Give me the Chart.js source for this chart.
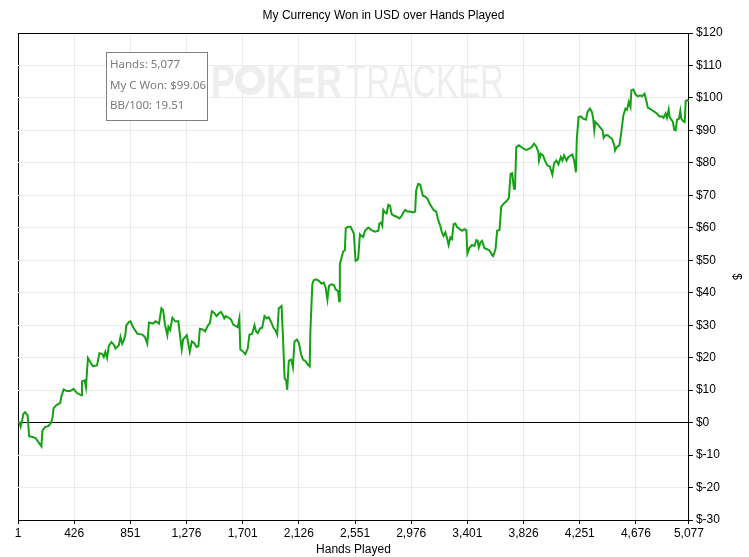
<!DOCTYPE html>
<html>
<head>
<meta charset="utf-8">
<script src="https://cdn.jsdelivr.net/npm/chart.js@4.4.1/dist/chart.umd.min.js"></script>
<style>
  html, body { margin: 0; padding: 0; background: #fff; }
  #wrap { width: 749px; height: 557px; }
</style>
</head>
<body>
<div id="wrap"><canvas id="wonChart"></canvas></div>
<script>
// hands played / currency won
const hands = [
  1, 14, 21, 29, 42, 54, 74, 85, 118, 135, 150, 178, 186, 194, 206, 232, 252, 262, 270, 282,
  295, 320, 328, 346, 371, 396, 422, 447, 480, 485, 505, 515, 530, 548, 566, 599, 617, 637, 650, 662,
  675, 688, 708, 726, 738, 764, 776, 789, 802, 814, 819, 839, 852, 870, 903, 941, 961, 979, 992, 1022,
  1043, 1068, 1086, 1099, 1114, 1131, 1139, 1152, 1169, 1190,
  1214, 1232, 1240, 1250, 1265, 1278, 1290, 1301, 1316, 1334, 1351, 1366, 1377, 1397, 1417, 1435, 1453, 1468, 1486, 1503,
  1518, 1536, 1549, 1562, 1574, 1594, 1612, 1630, 1650, 1663, 1676, 1683, 1701, 1721, 1739, 1752, 1772, 1790, 1802, 1815,
  1833, 1848, 1866, 1883, 1898, 1916, 1934, 1949, 1962, 1974, 1995, 2005, 2018, 2030, 2038, 2050, 2068, 2081, 2093, 2111,
  2126, 2144, 2157, 2177, 2195, 2208, 2213, 2228, 2238, 2258, 2279, 2296, 2314, 2329, 2342, 2354, 2372, 2390, 2405, 2423,
  2431, 2436, 2448, 2461, 2474, 2481, 2499, 2517, 2532, 2542, 2555, 2567, 2575, 2588, 2600, 2613, 2626, 2651, 2676, 2702,
  2727, 2735, 2747, 2757, 2765, 2778, 2790, 2803, 2816, 2828, 2846, 2866, 2887, 2904, 2917, 2930, 2947, 2968, 2988, 3006,
  3013, 3028, 3044, 3056, 3064, 3082, 3099, 3115, 3132, 3145, 3165, 3178, 3196, 3208, 3221, 3234, 3246, 3259, 3272, 3284,
  3297, 3310, 3322, 3343, 3360, 3378, 3393, 3401, 3418, 3436, 3454, 3469, 3479, 3487, 3500, 3512, 3530, 3550, 3571, 3588,
  3596, 3614, 3626, 3644, 3657, 3664, 3677, 3695, 3715, 3728, 3740, 3753, 3761, 3771, 3791, 3811, 3829, 3847, 3867, 3887,
  3905, 3923, 3938, 3943, 3956, 3973, 3988, 4006, 4024, 4044, 4057, 4075, 4090, 4108, 4120, 4133, 4151, 4166, 4184, 4196,
  4209, 4222, 4229, 4242, 4260, 4277, 4298, 4310, 4328, 4343, 4353, 4361, 4369, 4386, 4404, 4424, 4432, 4445, 4462, 4480,
  4495, 4513, 4518, 4531, 4551, 4564, 4581, 4597, 4609, 4622, 4635, 4642, 4657, 4673, 4690, 4708, 4723, 4741, 4754, 4766,
  4779, 4799, 4817, 4835, 4855, 4875, 4885, 4901, 4911, 4924, 4931, 4944, 4956, 4966, 4977, 4987, 5002, 5012, 5020, 5032,
  5045, 5053, 5065, 5077
];
const won = [
  0, 0, -1.2, 0, 2.7, 3.2, 2.2, -4.2, -4.5, -4.8, -5.7, -7.3, -2.5, -2, -1.4, -1, 0, 1.6, 4.4, 5,
  5.5, 6, 7.8, 10.2, 9.7, 9.7, 10.4, 9.1, 8.4, 12.7, 13, 10.9, 19.9, 18.7, 17.4, 17.6, 21.4, 21.2, 20.2, 21.8,
  19.9, 23.6, 24.8, 24, 22.8, 23.8, 26.4, 24.3, 25.4, 27.1, 29.8, 31, 31.2, 29.5, 27.4, 27.1, 26.4, 24.3, 30.8, 30.5,
  31.2, 30.5, 35.2, 34.6, 30, 26.9, 29.5, 28.5, 32.3, 31.2,
  31.2, 25, 22.5, 25.6, 26.3, 26.9, 24.2, 21.8, 25, 24.5, 23.3, 23.5, 28.9, 28.7, 28.1, 29.7, 30.7, 34.3, 33.8, 32.8,
  33.5, 34.1, 33.3, 32.1, 32.8, 32.3, 31.8, 30.2, 29.7, 29.4, 32.1, 22.5, 22, 21.1, 22.8, 27.1, 27.3, 30, 28.1, 27.6,
  29, 29.2, 32.8, 32.1, 32.5, 31, 29.2, 28.4, 27.1, 35.2, 35.9, 27.1, 13.7, 12.9, 10.1, 19.1, 19.4, 17, 25, 25.6,
  24.5, 20.9, 19.4, 18.9, 17.8, 17.3, 28.1, 42.6, 43.8, 44.1, 43.6, 42.8, 43.1, 41.5, 37.9, 42.1, 42.6, 42.4, 41, 40.5,
  37.4, 48.8, 50.6, 52.7, 53.1, 59.9, 60.3, 60.3, 59.1, 58.2, 49.8, 50, 50.6, 58, 57.5, 57.2, 59.1, 60.1, 59.3, 58.8,
  59.1, 61.3, 61.6, 60.6, 65.5, 64.7, 64.4, 67.1, 66.8, 64.2, 63.7, 63.4, 62.9, 63.7, 64.7, 65.5, 65, 65, 64.7, 65,
  71.4, 73.5, 73.3, 71.2, 69.9, 69.6, 68.9, 67.5, 66.3, 65.5, 65, 62.7, 60.6, 58.6, 57.5, 58.6, 57, 54.7, 57, 56.5,
  61.1, 61.3, 60.3, 59.6, 59.1, 59.6, 59.3, 52.1, 53.9, 54.7, 54.4, 56.2, 56, 53.9, 55.5, 56, 53.7, 53.4, 52.9, 51.6,
  51.3, 53.4, 59.1, 59.3, 66.5, 66.8, 67.5, 68.1, 69.2, 76.6, 76.8, 72, 72, 84.8, 85.4, 84.8, 84.3, 84, 84.3, 84.8,
  85.9, 85, 83.3, 80.7, 82.8, 82.3, 80.7, 79.2, 78.9, 76.4, 79.9, 80.7, 79.5, 81.8, 80.7, 82.3, 80.7, 81.8, 82.3, 82.6,
  80.7, 77.1, 87.4, 94.1, 94.3, 93.6, 93.3, 95.7, 96.7, 95.7, 93.6, 90, 92.6, 91.9, 91, 90, 87.7, 88.5, 88.5, 87.9,
  87.4, 85.4, 83.8, 84.8, 85.4, 89, 94.6, 96.7, 96.4, 98.8, 97.2, 102.4, 102.6, 101.1, 100.5, 100.8, 100.5, 101.3, 99.3, 97,
  96.7, 96.2, 95.7, 95.2, 94.3, 94.3, 93.9, 95.2, 93.9, 96.4, 94.1, 93.3, 92.6, 90.2, 90, 93.3, 93.6, 96, 93.6, 92.9,
  92.6, 99.1, 99.3, 99.06
];
const xTicks = [1, 426, 851, 1276, 1701, 2126, 2551, 2976, 3401, 3826, 4251, 4676, 5077];
const yMin = -30;
const yMax = 120;
const infoLines = ['Hands: 5,077', 'My C Won: $99.06', 'BB/100: 19.51'];

const points = hands.map((h, i) => ({ x: h, y: won[i] }));

// squeeze a word into a given width
function fitText(c, txt, x, y, width) {
  const w = c.measureText(txt).width;
  c.save();
  c.translate(x, y);
  c.scale(width / w, 1);
  c.fillText(txt, 0, 0);
  c.restore();
}

// watermark behind the line
const watermark = {
  id: 'watermark',
  beforeDatasetsDraw(chart) {
    const c = chart.ctx;
    c.save();
    c.fillStyle = '#eeeeee';
    c.font = 'bold 46px "Liberation Sans"';
    fitText(c, 'P', 211, 97, 24);
    fitText(c, 'KER', 266, 97, 76);
    // chip in place of the O
    c.beginPath();
    c.arc(250, 80, 15, 0, Math.PI * 2);
    c.fill();
    c.fillStyle = '#ffffff';
    c.beginPath();
    c.arc(250, 80, 8, 0, Math.PI * 2);
    c.fill();
    c.fillStyle = '#eeeeee';
    c.font = '46px "Liberation Sans"';
    fitText(c, 'TRACKER', 346, 97, 158);
    c.restore();
  }
};

// little info box top-left
const infoBox = {
  id: 'infoBox',
  afterDatasetsDraw(chart) {
    const c = chart.ctx;
    c.save();
    c.fillStyle = '#ffffff';
    c.fillRect(106.5, 52.5, 101, 68);
    c.strokeStyle = '#808080';
    c.lineWidth = 1;
    c.strokeRect(106.5, 52.5, 101, 68);
    c.fillStyle = '#7a7a7a';
    c.font = '11.5px "Noto Sans"';
    c.textBaseline = 'middle';
    infoLines.forEach((t, i) => c.fillText(t, 110, 65 + i * 20.5));
    c.restore();
  }
};

const ctx = document.getElementById('wonChart').getContext('2d');
new Chart(ctx, {
  type: 'line',
  data: {
    datasets: [{
      data: points,
      borderColor: '#14a214',
      borderWidth: 2,
      pointRadius: 0,
      tension: 0,
      fill: false
    }]
  },
  options: {
    responsive: true,
    maintainAspectRatio: false,
    animation: false,
    layout: { padding: { left: 18, right: 0, top: 0, bottom: 0 } },
    plugins: {
      legend: { display: false },
      tooltip: { enabled: false },
      title: {
        display: true,
        text: 'My Currency Won in USD over Hands Played',
        color: '#000',
        font: { family: 'Liberation Sans', size: 12, weight: 'normal' },
        padding: { top: 8, bottom: 10.6 }
      }
    },
    scales: {
      x: {
        type: 'linear',
        min: 1,
        max: 5077,
        afterBuildTicks: (scale) => { scale.ticks = xTicks.map(v => ({ value: v })); },
        ticks: {
          color: '#000',
          font: { family: 'Liberation Sans', size: 12 },
          padding: 2,
          maxRotation: 0,
          autoSkip: false,
          callback: (v) => v.toLocaleString('en-US')
        },
        grid: {
          color: (c) => (c.tick && c.tick.value === 1 ? '#000' : '#ebebeb'),
          tickColor: '#000',
          tickLength: 4
        },
        border: { color: '#000', width: 1 },
        title: {
          display: true,
          text: 'Hands Played',
          color: '#000',
          font: { family: 'Liberation Sans', size: 12 },
          padding: { top: 0, bottom: 0.2 }
        }
      },
      y: {
        position: 'right',
        min: yMin,
        max: yMax,
        ticks: {
          stepSize: 10,
          color: '#000',
          font: { family: 'Liberation Sans', size: 12 },
          padding: 3,
          callback: (v) => '$' + v
        },
        grid: {
          color: (c) => (c.tick && (c.tick.value === 0 || c.tick.value === yMax) ? '#000' : '#ebebeb'),
          tickColor: '#000',
          tickLength: 4
        },
        border: { color: '#000', width: 1 },
        title: {
          display: true,
          text: '$',
          color: '#000',
          font: { family: 'Liberation Sans', size: 12 },
          padding: { top: 5, bottom: 4 }
        }
      }
    }
  },
  plugins: [watermark, infoBox]
});
</script>
</body>
</html>
